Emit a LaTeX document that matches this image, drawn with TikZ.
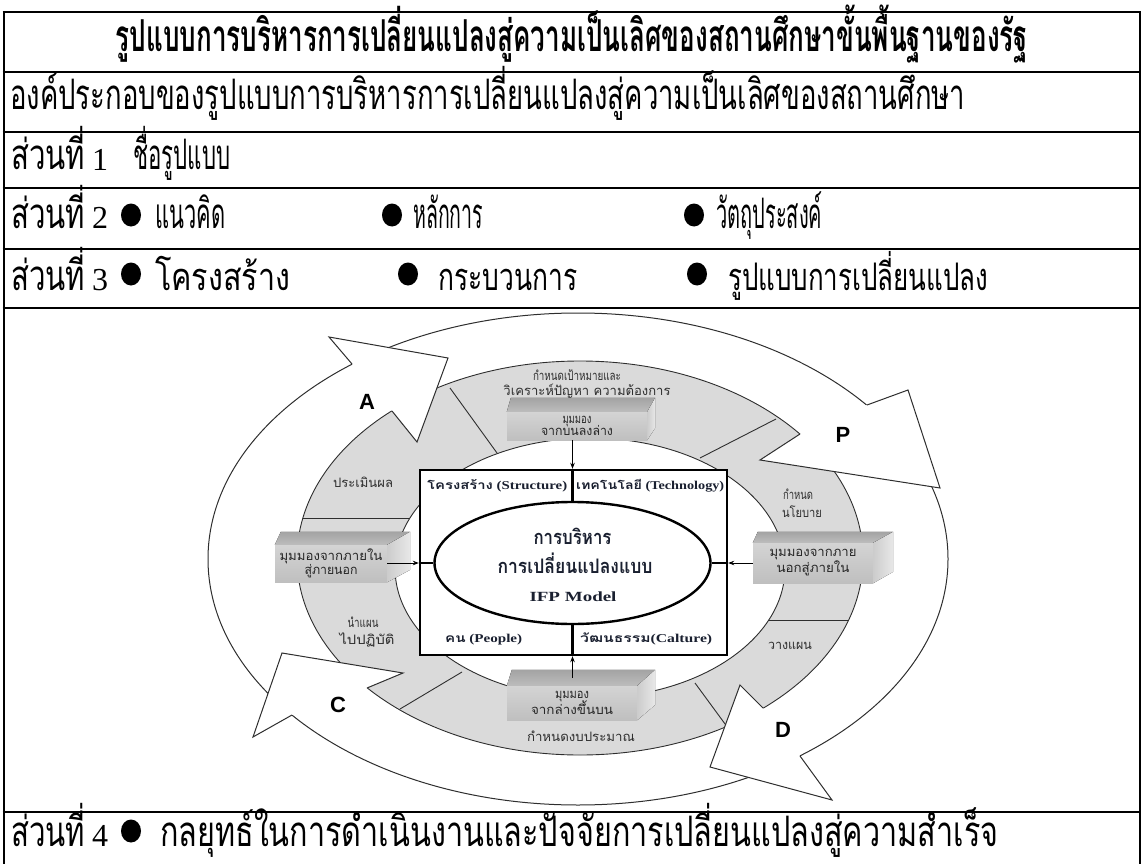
\documentclass[tikz,border=0pt]{standalone}
\usepackage{fontspec}
\usepackage{graphicx}
\setmainfont{Liberation Serif}
\newfontfamily\thai[Script=Thai]{Loma}
\newfontfamily\lsans{Liberation Sans}
\usetikzlibrary{arrows.meta,calc,shapes.geometric}

\definecolor{ringgray}{HTML}{DADADA}
\definecolor{edgeink}{HTML}{2E2E2E}
\definecolor{lblink}{HTML}{2E2E2E}
\definecolor{navyink}{HTML}{1A2030}
% stretch or squeeze a text to a given width (in pt), keeping its height
\newcommand\fitw[2]{\resizebox{#1pt}{\height}{#2}}

\tikzset{
  rule/.style={line width=2.7pt},
  rowtxt/.style={anchor=base west, inner sep=0pt, font=\thai\fontsize{42}{46}\selectfont},
  loopedtxt/.style={anchor=base west, inner sep=0pt, font=\thai\fontsize{38}{42}\selectfont},
  digit/.style={anchor=base west, inner sep=0pt, font=\rmfamily\fontsize{32}{36}\selectfont},
  dotmark/.style={ellipse, fill=black, inner sep=0pt, minimum width=20pt, minimum height=23pt},
  ringedge/.style={draw=edgeink, line width=0.9pt},
  divider/.style={draw=edgeink, line width=0.9pt},
  headline/.style={draw=edgeink, line width=1pt, line join=miter},
  bigletter/.style={font=\lsans\bfseries\fontsize{22}{22}\selectfont, inner sep=0pt},
  ringlbl/.style={anchor=base, inner sep=0pt, text=lblink, font=\thai\fontsize{13}{15}\selectfont},
  front/.style={inner sep=0pt, top color=gray!34, bottom color=gray!50, align=center,
    text=black!85, font=\thai\fontsize{13}{15}\selectfont},
  topface/.style={top color=gray!72, bottom color=gray!52},
  sideface/.style={left color=gray!40, right color=gray!18},
  conn/.style={draw=black, line width=0.8pt, -{Stealth[length=6pt,width=4.5pt]}},
  cross/.style={draw=black, line width=2.4pt},
  quadtxt/.style={anchor=base west, inner sep=0pt, text=navyink, font=\bfseries\fontsize{12}{14}\selectfont},
  elltxt/.style={anchor=base, inner sep=0pt, text=navyink},
}

\begin{document}
\begin{tikzpicture}[x=1pt,y=-1pt]
\useasboundingbox (0,0) rectangle (1143,864);

% ---------------- table rows ----------------
\node[rowtxt, anchor=base, font=\thai\bfseries\fontsize{44}{48}\selectfont] (title) at (572,52)
  {\fitw{912}{รูปแบบการบริหารการเปลี่ยนแปลงสู่ความเป็นเลิศของสถานศึกษาขั้นพื้นฐานของรัฐ}};
\node[rowtxt] (comp) at (10,110)
  {\fitw{955}{องค์ประกอบของรูปแบบการบริหารการเปลี่ยนแปลงสู่ความเป็นเลิศของสถานศึกษา}};

\node[rowtxt] (p1) at (11,170) {\fitw{74}{ส่วนที่}};
\node[digit] (n1) at (92,170) {1};
\node[rowtxt] (p1a) at (133,170) {\fitw{97}{ชื่อรูปแบบ}};

\node[rowtxt] (p2) at (11,228) {\fitw{74}{ส่วนที่}};
\node[digit] (n2) at (92,228) {2};
\node[dotmark] (d21) at (131,215) {};
\node[rowtxt] (p2a) at (155,228) {\fitw{70}{แนวคิด}};
\node[dotmark] (d22) at (392,215) {};
\node[rowtxt] (p2b) at (413,228) {\fitw{70}{หลักการ}};
\node[dotmark] (d23) at (694,215) {};
\node[rowtxt] (p2c) at (716,228) {\fitw{106}{วัตถุประสงค์}};

\node[rowtxt] (p3) at (11,290) {\fitw{74}{ส่วนที่}};
\node[digit] (n3) at (92,290) {3};
\node[dotmark] (d31) at (131,274) {};
\node[loopedtxt] (p3a) at (155,290) {\fitw{135}{โครงสร้าง}};
\node[dotmark] (d32) at (408,274) {};
\node[loopedtxt] (p3b) at (438,290) {\fitw{139}{กระบวนการ}};
\node[dotmark] (d33) at (697,274) {};
\node[loopedtxt] (p3c) at (728,290) {\fitw{260}{รูปแบบการเปลี่ยนแปลง}};

\node[rowtxt] (p4) at (11,846) {\fitw{74}{ส่วนที่}};
\node[digit] (n4) at (92,846) {4};
\node[dotmark] (d41) at (131,831) {};
\node[rowtxt] (p4a) at (160,846)
  {\fitw{838}{กลยุทธ์ในการดำเนินงานและปัจจัยการเปลี่ยนแปลงสู่ความสำเร็จ}};

% ---------------- gray process ring ----------------
\fill[ringgray, even odd rule]
  (580,558) ellipse [x radius=283, y radius=197]
  (590,568) ellipse [x radius=195, y radius=130];
\draw[ringedge] (580,558) ellipse [x radius=283, y radius=197];
\draw[ringedge] (590,568) ellipse [x radius=195, y radius=130];

% segment dividers across the ring
\draw[divider] (450,388) -- (497,453);
\draw[divider] (700,458) -- (776,419);
\draw[divider] (769,620) -- (849,620);
\draw[divider] (695,683) -- (728,728);
\draw[divider] (400,709) -- (462,672);
\draw[divider] (303,518) -- (410,518);

% ---------------- PDCA arrows ----------------
\draw[ringedge, line width=1pt] (578,559) ellipse [x radius=370, y radius=246];

% A head
\fill[white] (352,364) -- (329,337) -- (448,358) -- (417,442) -- (392,411) -- cycle;
\draw[headline] (352,364) -- (329,337) -- (448,358) -- (417,442) -- (392,411);
% P head
\fill[white] (867,405) -- (908,390) -- (940,488) -- (760,460) -- (800,434) -- cycle;
\draw[headline] (867,405) -- (908,390) -- (940,488) -- (760,460) -- (800,434);
% D head
\fill[white] (800,756) -- (832,800) -- (710,767) -- (740,685) -- (763,708) -- cycle;
\draw[headline] (800,756) -- (832,800) -- (710,767) -- (740,685) -- (763,708);
% C head
\fill[white] (292,715) -- (253,737) -- (282,653) -- (403,673) -- (367,688) -- cycle;
\draw[headline] (292,715) -- (253,737) -- (282,653) -- (403,673) -- (367,688);

\node[bigletter] (la) at (367,402) {A};
\node[bigletter] (lp) at (843,435) {P};
\node[bigletter] (ld) at (783,730) {D};
\node[bigletter] (lc) at (338,705) {C};

% ---------------- ring labels ----------------
\node[ringlbl] (g1) at (577,380) {\fitw{88}{กำหนดเป้าหมายและ}};
\node[ringlbl] (g2) at (587,395) {\fitw{167}{วิเคราะห์ปัญหา ความต้องการ}};
\node[ringlbl] (g3) at (363,487) {\fitw{60}{ประเมินผล}};
\node[ringlbl] (g4) at (363,627) {\fitw{31}{นำแผน}};
\node[ringlbl] (g5) at (367,644) {\fitw{55}{ไปปฏิบัติ}};
\node[ringlbl] (g6) at (581,741) {\fitw{108}{กำหนดงบประมาณ}};
\node[ringlbl] (g7) at (798,499) {\fitw{30}{กำหนด}};
\node[ringlbl] (g8) at (802,517) {\fitw{40}{นโยบาย}};
\node[ringlbl] (g9) at (790,649) {\fitw{44}{วางแผน}};

% ---------------- viewpoint blocks ----------------
% top block
\node[front, minimum width=140pt, minimum height=28pt] (tb) at (577,426)
  {\fitw{29}{มุมมอง}\\[-3pt]\fitw{72}{จากบนลงล่าง}};
\fill[topface] (tb.north west) -- ++(4,-14) -- ($(tb.north east)+(8,-14)$) -- (tb.north east) -- cycle;
\fill[sideface] (tb.north east) -- ++(8,-14) -- ++(0,30) -- (tb.south east) -- cycle;
% right block
\node[front, minimum width=120pt, minimum height=40pt] (rb) at (813,563)
  {\fitw{87}{มุมมองจากภาย}\\[0pt]\fitw{73}{นอกสู่ภายใน}};
\fill[topface] (rb.north west) -- ++(5,-11) -- ($(rb.north east)+(20,-11)$) -- (rb.north east) -- cycle;
\fill[sideface] (rb.north east) -- ++(20,-11) -- ++(0,40) -- (rb.south east) -- cycle;
% left block
\node[front, minimum width=112pt, minimum height=37pt] (lb) at (331,563.5)
  {\fitw{103}{มุมมองจากภายใน}\\[-1pt]\fitw{53}{สู่ภายนอก}};
\fill[topface] (lb.north west) -- ++(6,-13) -- ($(lb.north east)+(23,-13)$) -- (lb.north east) -- cycle;
\fill[sideface] (lb.north east) -- ++(23,-13) -- ++(0,38) -- (lb.south east) -- cycle;
% bottom block
\node[front, minimum width=130pt, minimum height=34pt] (bb) at (572,703)
  {\fitw{34}{มุมมอง}\\[-2pt]\fitw{82}{จากล่างขึ้นบน}};
\fill[topface] (bb.north west) -- ++(5,-16) -- ($(bb.north east)+(18,-16)$) -- (bb.north east) -- cycle;
\fill[sideface] (bb.north east) -- ++(18,-16) -- ++(0,35) -- (bb.south east) -- cycle;

% ---------------- centre frame ----------------
\coordinate (cx) at (572.5,563);
\node[draw, line width=2.4pt, fill=white, minimum width=307pt, minimum height=185pt,
  inner sep=0pt] (cbox) at (573.5,562.5) {};
\node[ellipse, draw, line width=2.4pt, minimum width=276pt, minimum height=122pt,
  inner sep=0pt] (ell) at (cx) {};
\draw[cross] (cbox.north -| cx) -- (ell.north);
\draw[cross] (ell.south) -- (cbox.south -| cx);
\draw[cross] (cbox.west |- cx) -- (ell.west);
\draw[cross] (ell.east) -- (cbox.east |- cx);

\node[quadtxt] (qs) at (427,489) {\fitw{140}{{\thai\bfseries โครงสร้าง} (Structure)}};
\node[quadtxt] (qt) at (576,489) {\fitw{148}{{\thai\bfseries เทคโนโลยี} (Technology)}};
\node[quadtxt] (qp) at (445,642) {\fitw{77}{{\thai\bfseries คน} (People)}};
\node[quadtxt] (qc) at (580,642) {\fitw{132}{{\thai\bfseries วัฒนธรรม}(Calture)}};

\node[elltxt, font=\thai\bfseries\fontsize{20}{22}\selectfont] (e1) at (572.5,544) {\fitw{78}{การบริหาร}};
\node[elltxt, font=\thai\bfseries\fontsize{20}{22}\selectfont] (e2) at (575,573) {\fitw{155}{การเปลี่ยนแปลงแบบ}};
\node[elltxt, font=\bfseries\fontsize{14}{16}\selectfont] (e3) at (573,601) {\fitw{87}{IFP Model}};

% connectors from the viewpoint blocks
\draw[conn] (tb.south -| cx) -- (cbox.north -| cx);
\draw[conn] ($(bb.north -| cx)+(0,-8)$) -- (cbox.south -| cx);
\draw[conn] (lb.east |- cx) -- (cbox.west |- cx);
\draw[conn] (rb.west |- cx) -- (cbox.east |- cx);

% ---------------- table rules ----------------
\draw[rule] (4,12) -- (4,866);
\draw[rule] (1140,12) -- (1140,866);
\foreach \yy in {12,72,132,188,249,308,812}
  \draw[rule] (2.65,\yy) -- (1141.35,\yy);
\end{tikzpicture}
\end{document}
